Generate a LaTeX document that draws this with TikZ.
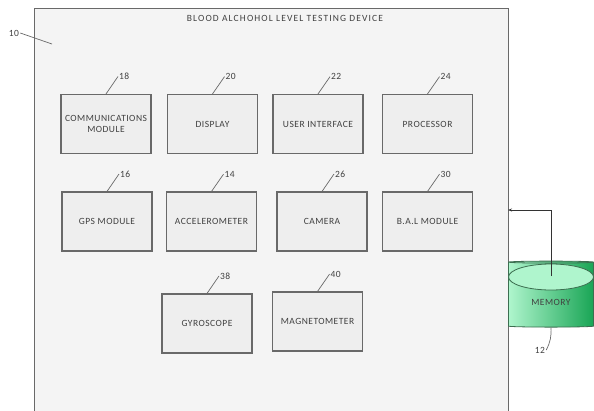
\documentclass[tikz,border=0pt]{standalone}
\usepackage{fontspec}
\setmainfont[LetterSpace=5]{Carlito}
\newfontfamily\widecaps[LetterSpace=12]{Carlito}
\usetikzlibrary{arrows.meta, positioning, shapes.geometric}

\definecolor{framegray}{RGB}{105,105,105}
\definecolor{panel}{RGB}{244,244,244}
\definecolor{boxfill}{RGB}{238,238,238}
\definecolor{memlight}{RGB}{175,245,205}
\definecolor{memdark}{RGB}{25,165,85}
\definecolor{memedge}{RGB}{60,110,80}

\begin{document}
\begin{tikzpicture}[
    x=1pt, y=-1pt,
    every node/.style={font=\fontsize{9.5}{11}\selectfont, text=black!75},
    unit/.style={draw=framegray, line width=1.1pt, fill=boxfill,
                 minimum width=90pt, minimum height=59pt, align=center},
    reflabel/.style={inner sep=1pt},
    leader/.style={framegray, line width=0.7pt},
    link/.style={black!80, line width=0.8pt, -{Stealth[length=4pt]}}
]
\useasboundingbox (0,0) rectangle (594,410);

% =========================
% DEVICE FRAME
% =========================
\fill[panel] (34,8) rectangle (508,412);
\draw[framegray, line width=1pt] (34,412) |- (508,8) -- (508,412);
\node[font=\widecaps\fontsize{9.5}{11}\selectfont] (title) at (285,18)
    {BLOOD ALCHOHOL LEVEL TESTING DEVICE};

\node[reflabel] (dev-ref) at (14,33) {10};
\coordinate (devpt) at (52,44);
\draw[leader] (dev-ref.east) -- (devpt);

% =========================
% FUNCTIONAL UNITS
% =========================
% first row
\node[unit] (comm) at (106,124)   {COMMUNICATIONS\\MODULE};
\node[unit] (disp) at (212.5,124) {DISPLAY};
\node[unit] (ui)   at (318,124)   {USER INTERFACE};
\node[unit] (proc) at (427.5,124) {PROCESSOR};

% second row
\node[unit] (gps)   at (107,221.5)   {GPS MODULE};
\node[unit] (accel) at (211.5,221.5) {ACCELEROMETER};
\node[unit] (cam)   at (322,221.5)   {CAMERA};
\node[unit] (bal)   at (427.5,221.5) {B.A.L MODULE};

% third row
\node[unit] (gyro) at (207,323.5)   {GYROSCOPE};
\node[unit] (mag)  at (317.5,321.5) {MAGNETOMETER};

% reference numerals
\foreach \b/\n in {comm/18, disp/20, ui/22, proc/24, gps/16, accel/14,
                   cam/26, bal/30, gyro/38, mag/40}
{
    \node[reflabel, above right=13pt and 12pt of \b.north] (\b-ref) {\n};
    \draw[leader] (\b.north) -- (\b-ref.west);
}

% =========================
% MEMORY
% =========================
\node[cylinder, shape border rotate=90, aspect=0.3,
      minimum width=85pt, minimum height=66pt,
      draw=memedge, line width=0.8pt,
      left color=memlight, right color=memdark] (mem) at (551,295) {};
\draw[memedge, line width=0.8pt, fill=memlight]
    (551,277) ellipse [x radius=42.5, y radius=13];
\node at (551,302) {MEMORY};

\coordinate (memtap) at (551,276);
\coordinate (devin) at (508,210);
\draw[link] (memtap) |- (devin);

\node[reflabel] (mem-ref) at (540,350) {12};
\draw[leader] (mem.south) to[bend left=15] (mem-ref.east);
\end{tikzpicture}
\end{document}
